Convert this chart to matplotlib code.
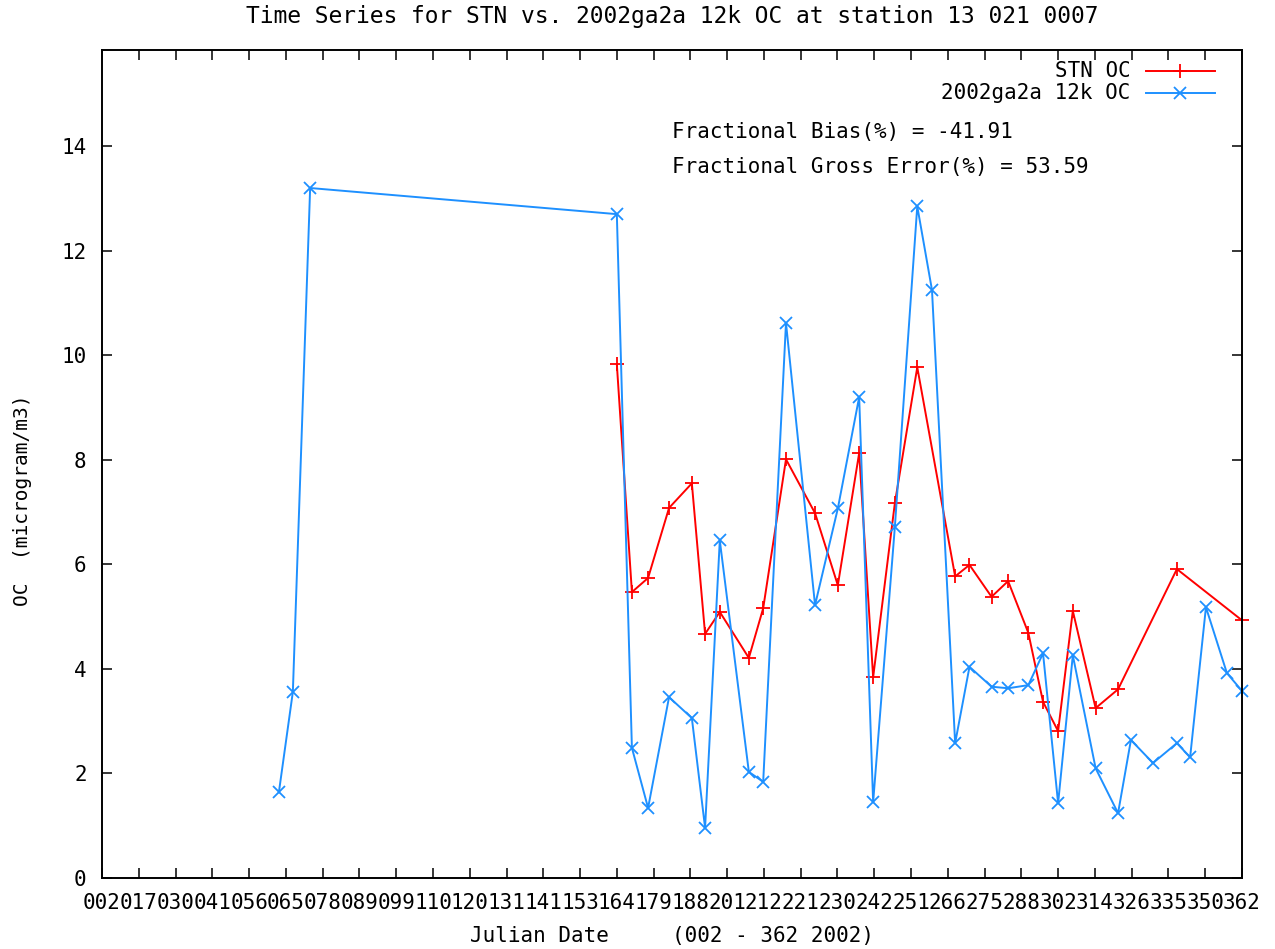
import matplotlib
matplotlib.use("Agg")
import matplotlib.pyplot as plt

# Tick labels along the x axis (Julian dates), one per evenly spaced tick
date_labels = ["002", "017", "030", "041", "056", "065", "078", "089", "099", "110",
               "120", "131", "141", "153", "164", "179", "188", "201", "212", "221",
               "230", "242", "251", "266", "275", "288", "302", "314", "326", "335",
               "350", "362"]

stn_pos = [14.0, 14.41, 14.85, 15.42, 16.04, 16.40, 16.80, 17.59, 17.98, 18.60,
           19.39, 20.01, 20.59, 20.97, 21.56, 22.17, 23.20, 23.59, 24.19, 24.64,
           25.19, 25.59, 26.00, 26.40, 27.02, 27.63, 29.23, 31.0]
stn_oc = [9.83, 5.47, 5.74, 7.08, 7.55, 4.67, 5.09, 4.21, 5.16, 8.01,
          6.98, 5.60, 8.13, 3.84, 7.17, 9.77, 5.77, 5.99, 5.38, 5.68,
          4.69, 3.37, 2.81, 5.11, 3.25, 3.61, 5.91, 4.93]

# 2002ga2a 12k model
mod_pos = [4.81, 5.19, 5.66, 14.0, 14.41, 14.85, 15.42, 16.04, 16.40, 16.80,
           17.59, 17.98, 18.60, 19.39, 20.01, 20.59, 20.97, 21.56, 22.17, 22.57,
           23.20, 23.59, 24.19, 24.64, 25.19, 25.59, 26.00, 26.40, 27.02, 27.63,
           27.98, 28.58, 29.23, 29.59, 30.02, 30.59, 31.0]
mod_oc = [1.64, 3.56, 13.20, 12.70, 2.49, 1.34, 3.46, 3.06, 0.96, 6.46,
          2.03, 1.84, 10.62, 5.22, 7.07, 9.20, 1.45, 6.71, 12.85, 11.25,
          2.58, 4.04, 3.66, 3.63, 3.69, 4.30, 1.43, 4.26, 2.10, 1.24,
          2.64, 2.20, 2.58, 2.31, 5.18, 3.92, 3.58]

y_ticks = [0, 2, 4, 6, 8, 10, 12, 14]

C_RED = "#FF0000"
C_BLUE = "#1E90FF"
FONT = "DejaVu Sans Mono"
FS = 15

plt.rcParams["font.family"] = FONT

fig = plt.figure(figsize=(12.75, 9.49), dpi=100)
ax = fig.add_axes([0.08, 0.0748, 0.8941, 0.8725])

ax.plot(stn_pos, stn_oc, color=C_RED, lw=1.4, marker="+", ms=10, mew=1.3, clip_on=False)
ax.plot(mod_pos, mod_oc, color=C_BLUE, lw=1.4, marker="x", ms=8, mew=1.3, clip_on=False)

ax.set_xlim(0, len(date_labels) - 1)
ax.set_ylim(0, 15.84)
ax.set_xticks(range(len(date_labels)))
ax.set_xticklabels(date_labels, fontsize=FS)
ax.set_yticks(y_ticks)
ax.set_yticklabels([str(v) for v in y_ticks], fontsize=FS)
ax.tick_params(axis="both", direction="in", length=7.5, width=1.1, top=True, right=True)
ax.tick_params(axis="x", pad=11)
ax.tick_params(axis="y", pad=11)
for sp in ax.spines.values():
    sp.set_linewidth(1.4)

# legend drawn by hand: text right-aligned, sample line to the right
for yy, lab, col, mk, ms in [(0.9746, "STN OC", C_RED, "+", 10),
                             (0.948, "2002ga2a 12k OC", C_BLUE, "x", 8)]:
    ax.plot([0.9158, 0.946, 0.9763], [yy, yy, yy], transform=ax.transAxes,
            color=col, lw=1.4, marker=mk, ms=ms, mew=1.3, markevery=[1], clip_on=False)
    ax.text(0.902, yy, lab, transform=ax.transAxes, ha="right", va="center", fontsize=FS)

ax.text(0.5, 0.901, "Fractional Bias(%) = -41.91", transform=ax.transAxes,
        ha="left", va="center", fontsize=FS)
ax.text(0.5, 0.8587, "Fractional Gross Error(%) = 53.59", transform=ax.transAxes,
        ha="left", va="center", fontsize=FS)

fig.text(0.527, 0.983, "Time Series for STN vs. 2002ga2a 12k OC at station 13 021 0007",
         ha="center", va="center", fontsize=FS + 1.5)
fig.text(0.527, 0.0135, "Julian Date     (002 - 362 2002)", ha="center", va="center", fontsize=FS)
fig.text(0.0175, 0.473, "OC  (microgram/m3)", rotation=90, ha="center", va="center", fontsize=FS - 1)

fig.savefig("out.png", dpi=100)
